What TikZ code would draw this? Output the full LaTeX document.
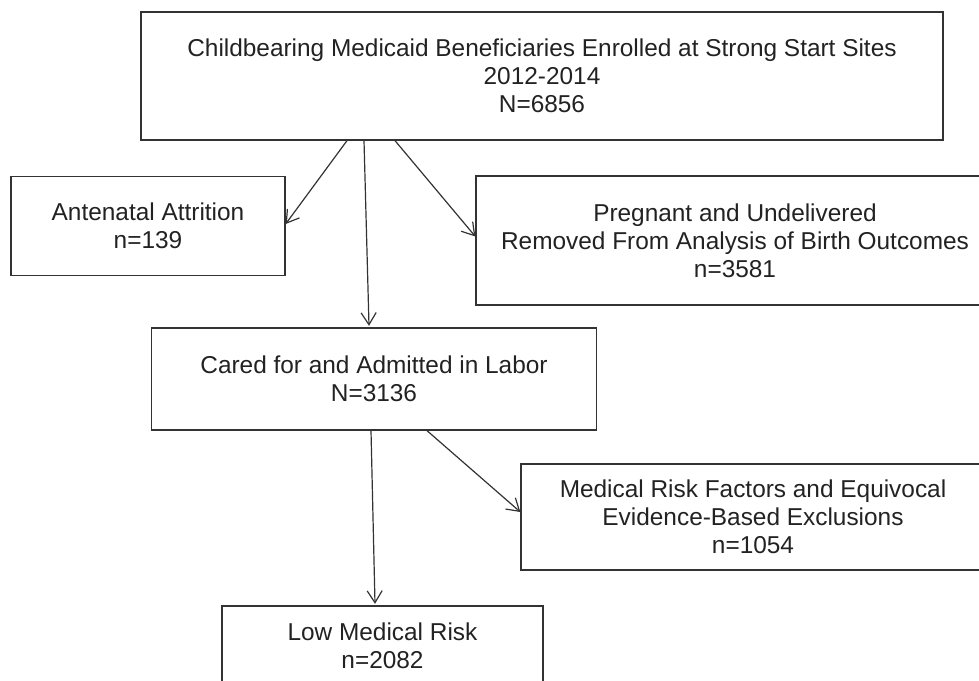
\documentclass[tikz,border=0pt]{standalone}
\usepackage{fontspec}
\setmainfont{Liberation Sans}
\usetikzlibrary{arrows.meta}
\definecolor{linecol}{HTML}{333333}
\definecolor{textcol}{HTML}{222222}
\tikzset{
  flowbox/.style={draw=linecol, line width=1.3pt, rectangle, align=center, inner sep=0pt,
    text=textcol, font=\fontsize{24.4}{28}\selectfont},
  flowarrow/.style={draw=linecol, line width=1.2pt, -{Straight Barb[length=12pt,width=15pt,line width=1.2pt]}}
}
\begin{document}
\begin{tikzpicture}[x=1pt,y=1pt]
\useasboundingbox (0,0) rectangle (979,-680);
\begin{scope}
\clip (0,0) rectangle (979,-680);
\node[flowbox, minimum width=802pt, minimum height=128pt] (top) at (542,-76)
  {Childbearing Medicaid Beneficiaries Enrolled at Strong Start Sites\\2012-2014\\N=6856};
\node[flowbox, minimum width=274pt, minimum height=99pt] (ante) at (148,-226)
  {Antenatal Attrition\\n=139};
\node[flowbox, minimum width=518pt, minimum height=129pt] (preg) at (735,-240.5)
  {Pregnant and Undelivered\\Removed From Analysis of Birth Outcomes\\n=3581};
\node[flowbox, minimum width=445pt, minimum height=102pt] (cared) at (374,-379)
  {Cared for and Admitted in Labor\\N=3136};
\node[flowbox, minimum width=464pt, minimum height=106pt] (med) at (753,-517)
  {Medical Risk Factors and Equivocal\\Evidence-Based Exclusions\\n=1054};
\node[flowbox, minimum width=321pt, minimum height=79pt] (low) at (382.5,-645.5)
  {Low Medical Risk\\n=2082};
\draw[flowarrow] ([xshift=-195pt]top.south) -- ([yshift=2pt]ante.east);
\draw[flowarrow] ([xshift=-178pt]top.south) -- ([xshift=-5pt,yshift=1.5pt]cared.north);
\draw[flowarrow] ([xshift=-147pt]top.south) -- ([yshift=4pt]preg.west);
\draw[flowarrow] ([xshift=-3pt]cared.south) -- ([xshift=-7.5pt,yshift=1.5pt]low.north);
\draw[flowarrow] ([xshift=53pt]cared.south) -- ([yshift=5pt]med.west);
\end{scope}
\end{tikzpicture}
\end{document}
